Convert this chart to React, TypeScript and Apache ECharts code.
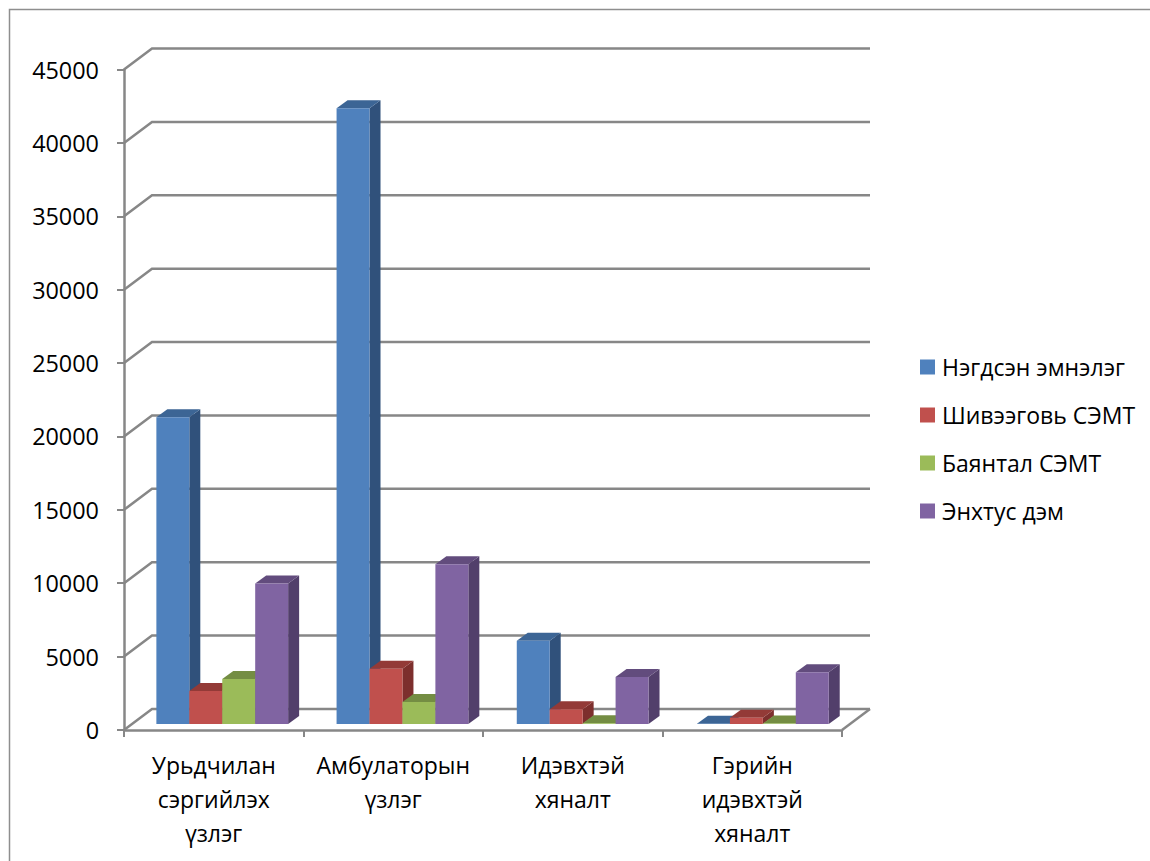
import React, { useEffect, useRef } from "react";
import * as echarts from "echarts";

const categories = ["Урьдчилан\nсэргийлэх\nүзлэг", "Амбулаторын\nүзлэг", "Идэвхтэй\nхяналт", "Гэрийн\nидэвхтэй\nхяналт"];
const seriesNames = ["Нэгдсэн эмнэлэг", "Шивээговь СЭМТ", "Баянтал СЭМТ", "Энхтус дэм"];
const hospital = [20900, 41950, 5680, 20];
const shiveegovi = [2250, 3770, 1000, 430];
const bayantal = [3070, 1500, 50, 40];
const enkhtus = [9570, 10890, 3200, 3520];
const seriesValues = [hospital, shiveegovi, bayantal, enkhtus];
const valueTicks = [0, 5000, 10000, 15000, 20000, 25000, 30000, 35000, 40000, 45000];
const frontColors = ["#4F81BD", "#C0504D", "#9BBB59", "#8064A2"];
const topColors = ["#3C6595", "#933A37", "#748D43", "#624C7D"];
const sideColors = ["#30517B", "#7D2F2D", "#5F7436", "#523F6B"];

const FONT = "'Open Sans', sans-serif";
const GRID_COLOR = "#878787";
const WALL_DX = 28;
const WALL_DY = -21;
const BAR_SHIFT_X = 8.5;
const BAR_PITCH_EXTRA = 0.7;
const BAR_SHIFT_Y = -6;
const BAR_DEPTH_X = 11;
const BAR_DEPTH_Y = -8;
const BAR_RATIO = 0.1835;

export default function App() {
  const ref = useRef<HTMLDivElement>(null);
  useEffect(() => {
    const chart = echarts.init(ref.current!, undefined, { renderer: "svg" });
    const wallSeries = {
      type: "custom",
      silent: true,
      z: 1,
      data: valueTicks.map((v) => [0, v]),
      renderItem: (params: any, api: any) => {
        const cs = params.coordSys;
        const y = api.coord([0, api.value(1)])[1];
        const left = cs.x;
        const right = cs.x + cs.width;
        const style = { stroke: GRID_COLOR, fill: "none", lineWidth: 2.5 };
        const children: any[] = [
          {
            type: "polyline",
            shape: {
              points: [
                [left, y],
                [left + WALL_DX, y + WALL_DY],
                [right + WALL_DX, y + WALL_DY],
              ],
            },
            style,
          },
        ];
        if (api.value(1) === 0) {
          children.push({
            type: "line",
            shape: { x1: right + WALL_DX, y1: y + WALL_DY, x2: right, y2: y },
            style,
          });
        }
        return { type: "group", children };
      },
    };
    const barSeries = seriesNames.map((name, s) => ({
      type: "custom",
      name,
      z: 2,
      silent: true,
      itemStyle: { color: frontColors[s] },
      data: seriesValues[s].map((v, i) => [i, v]),
      renderItem: (_p: any, api: any) => {
        const cat = api.value(0);
        const [cx, top0] = api.coord([cat, api.value(1)]);
        const base0 = api.coord([cat, 0])[1];
        const w = api.size([1, 0])[0] * BAR_RATIO;
        const x0 = cx + (s - 2) * w + BAR_SHIFT_X + cat * BAR_PITCH_EXTRA;
        const x1 = x0 + w;
        const top = top0 + BAR_SHIFT_Y;
        const base = base0 + BAR_SHIFT_Y;
        const dx = BAR_DEPTH_X;
        const dy = BAR_DEPTH_Y;
        return {
          type: "group",
          children: [
            {
              type: "polygon",
              shape: { points: [[x1, base], [x1 + dx, base + dy], [x1 + dx, top + dy], [x1, top]] },
              style: { fill: sideColors[s] },
            },
            {
              type: "polygon",
              shape: { points: [[x0, top], [x0 + dx, top + dy], [x1 + dx, top + dy], [x1, top]] },
              style: { fill: topColors[s] },
            },
            {
              type: "rect",
              shape: { x: x0, y: top, width: w, height: base - top },
              style: { fill: frontColors[s] },
            },
          ],
        };
      },
    }));
    chart.setOption({
      animation: false,
      color: frontColors,
      textStyle: { fontFamily: FONT },
      grid: { left: 124, top: 69.5, width: 718, height: 660.5 },
      xAxis: {
        type: "category",
        data: categories,
        axisLine: { lineStyle: { color: GRID_COLOR, width: 2.5 } },
        axisTick: { show: true, alignWithLabel: false, interval: 0, length: 7, lineStyle: { color: GRID_COLOR, width: 2 } },
        axisLabel: { color: "#000", fontSize: 23, fontFamily: FONT, lineHeight: 34, margin: 18, interval: 0 },
      },
      yAxis: {
        type: "value",
        min: 0,
        max: 45000,
        interval: 5000,
        splitLine: { show: false },
        axisLine: { show: true, lineStyle: { color: GRID_COLOR, width: 2.5 } },
        axisTick: { show: true, length: 7, lineStyle: { color: GRID_COLOR, width: 2 } },
        axisLabel: { color: "#000", fontSize: 23.4, fontFamily: FONT, margin: 25, formatter: (v: number) => String(v) },
      },
      legend: {
        orient: "vertical",
        left: 915,
        top: 347,
        data: seriesNames.map((name) => ({ name, icon: "rect" })),
        itemWidth: 15,
        itemHeight: 15,
        itemGap: 18,
        selectedMode: false,
        textStyle: { color: "#000", fontSize: 23, fontFamily: FONT, padding: [0, 0, 0, 2], lineHeight: 30 },
      },
      graphic: [
        {
          type: "polyline",
          silent: true,
          shape: { points: [[9.5, 861], [9.5, 9.5], [1150, 9.5]] },
          style: { stroke: "#8E8E8E", fill: "none", lineWidth: 1.5 },
        },
      ],
      series: [wallSeries, ...barSeries],
    });
    return () => chart.dispose();
  }, []);
  return <div ref={ref} style={{ position: "absolute", left: 0, top: 0, width: 1150, height: 861, background: "#fff" }} />;
}
